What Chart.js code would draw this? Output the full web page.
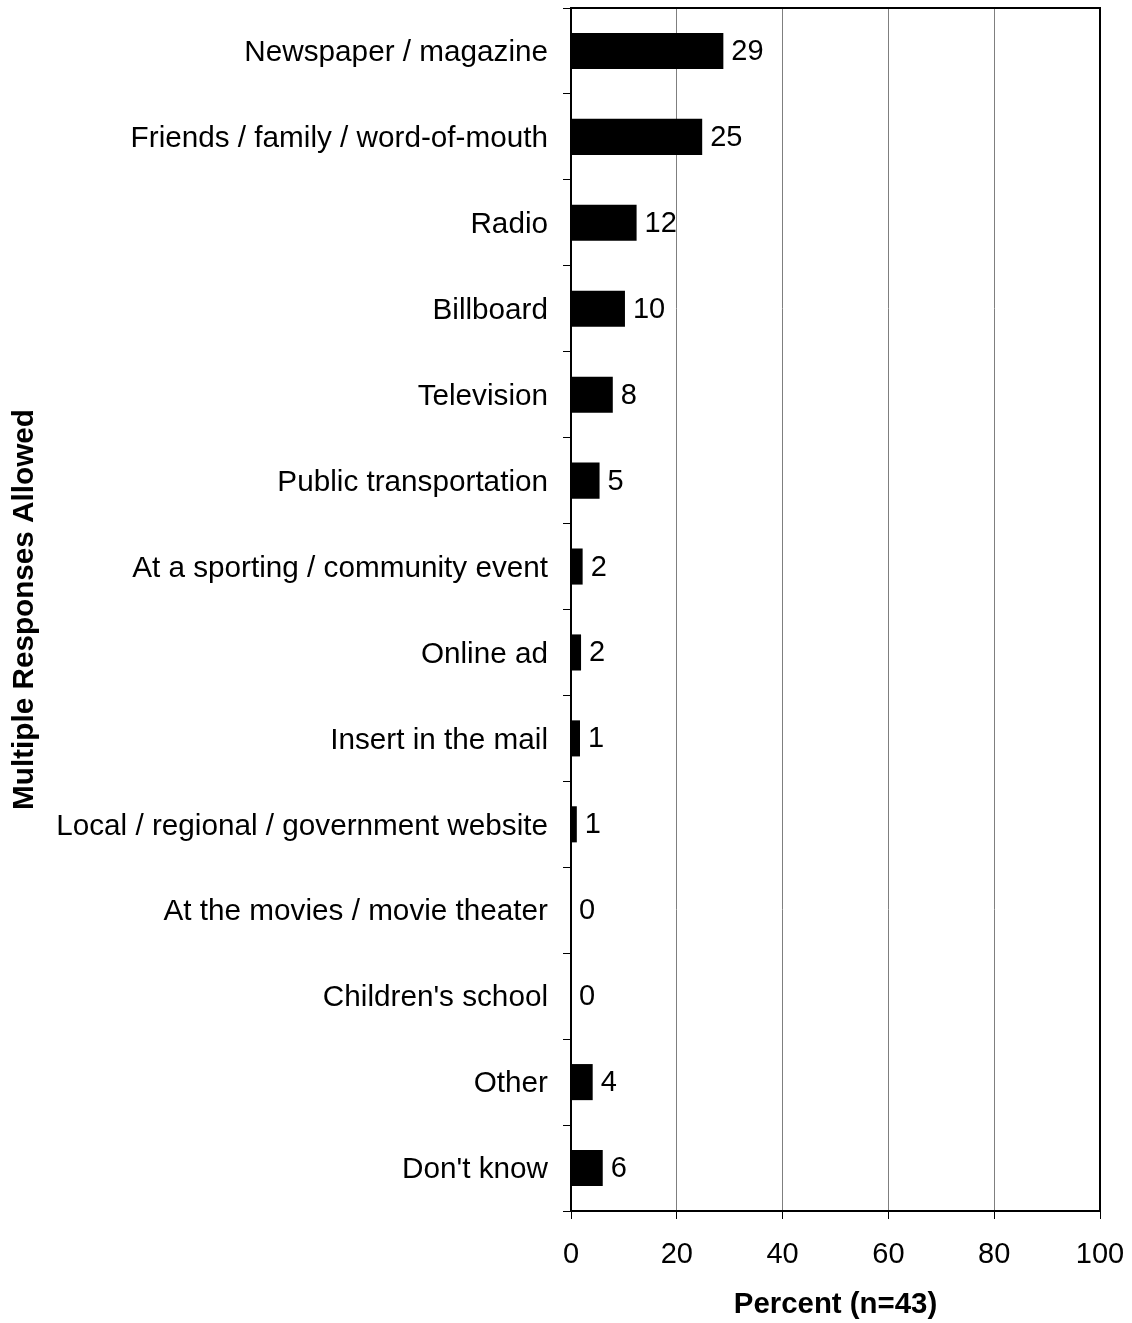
<!DOCTYPE html>
<html lang="en">
<head>
    <meta charset="UTF-8">
    <title>Multiple Responses Allowed</title>
    <script src="https://cdn.jsdelivr.net/npm/chart.js"></script>
    <style>
        html, body { margin: 0; padding: 0; background: #fff; }
        #wrap { width: 1132px; height: 1323px; }
    </style>
</head>
<body>
    <div id="wrap"><canvas id="sourceChart" width="1132" height="1323"></canvas></div>

    <script>
        var categories = [
            'Newspaper / magazine',
            'Friends / family / word-of-mouth',
            'Radio',
            'Billboard',
            'Television',
            'Public transportation',
            'At a sporting / community event',
            'Online ad',
            'Insert in the mail',
            'Local / regional / government website',
            'At the movies / movie theater',
            "Children's school",
            'Other',
            "Don't know"
        ];
        // bar lengths as measured, and the numbers printed beside them
        var percents = [28.8, 24.8, 12.4, 10.2, 7.9, 5.4, 2.2, 1.9, 1.7, 1.1, 0, 0, 4.1, 6.0];
        var printedValues = [29, 25, 12, 10, 8, 5, 2, 2, 1, 1, 0, 0, 4, 6];
        var xTicks = [0, 20, 40, 60, 80, 100];

        var FONT = "'Liberation Sans', Arial, sans-serif";
        Chart.defaults.font.family = FONT;
        Chart.defaults.color = '#000';

        // box round the plot + value labels
        var framePlugin = {
            id: 'frame',
            afterDatasetsDraw: function(chart) {
                var c = chart.ctx, a = chart.chartArea;
                c.save();
                c.strokeStyle = '#000';
                c.lineWidth = 2;
                c.beginPath();
                c.moveTo(a.left, a.top);
                c.lineTo(a.right, a.top);
                c.lineTo(a.right, a.bottom);
                c.stroke();

                var meta = chart.getDatasetMeta(0);
                c.fillStyle = '#000';
                c.font = '29px ' + FONT;
                c.textAlign = 'left';
                c.textBaseline = 'middle';
                meta.data.forEach(function(bar, i) {
                    c.fillText(String(printedValues[i]), bar.x + 8, bar.y + 1);
                });
                c.restore();
            }
        };

        var ctx = document.getElementById('sourceChart').getContext('2d');
        new Chart(ctx, {
            type: 'bar',
            data: {
                labels: categories,
                datasets: [{
                    data: percents,
                    backgroundColor: '#000',
                    borderWidth: 0,
                    barPercentage: 0.42,
                    categoryPercentage: 1
                }]
            },
            options: {
                indexAxis: 'y',
                responsive: false,
                animation: false,
                devicePixelRatio: 1,
                layout: { padding: { top: 8, right: 32, left: 7, bottom: 0 } },
                plugins: {
                    legend: { display: false },
                    tooltip: { enabled: false }
                },
                scales: {
                    x: {
                        min: 0,
                        max: 100,
                        afterBuildTicks: function(scale) {
                            scale.ticks = xTicks.map(function(v) { return { value: v }; });
                        },
                        grid: {
                            color: '#7f7f7f',
                            lineWidth: 1,
                            tickColor: '#000',
                            tickLength: 8
                        },
                        border: { color: '#000', width: 2 },
                        ticks: { font: { size: 29 }, padding: 19, maxRotation: 0 },
                        title: {
                            display: true,
                            text: 'Percent (n=43)',
                            font: { size: 29.4, weight: 'bold' },
                            padding: { top: 18, bottom: 0 }
                        },
                        afterFit: function(scale) {
                            scale.height = 112;
                            scale.paddingLeft = 0;
                            scale.paddingRight = 0;
                        }
                    },
                    y: {
                        grid: {
                            drawOnChartArea: false,
                            color: '#000',
                            tickLength: 8,
                            offset: true
                        },
                        border: { color: '#000', width: 2 },
                        ticks: { font: { size: 29.7 }, padding: 15, autoSkip: false, labelOffset: 2 },
                        title: {
                            display: true,
                            text: 'Multiple Responses Allowed',
                            font: { size: 29.7, weight: 'bold' },
                            padding: { top: 0, bottom: 0 }
                        },
                        afterFit: function(scale) {
                            scale.width = 564;
                            scale.paddingTop = 0;
                            scale.paddingBottom = 0;
                        }
                    }
                }
            },
            plugins: [framePlugin]
        });
    </script>
</body>
</html>
